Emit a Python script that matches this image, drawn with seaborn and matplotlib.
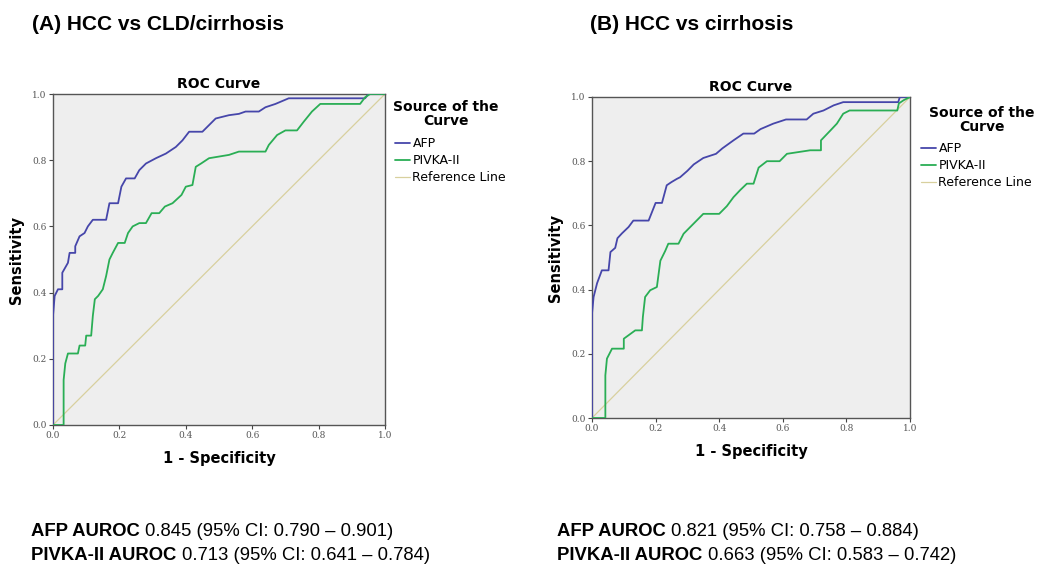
import matplotlib
matplotlib.use("Agg")
import matplotlib.pyplot as plt
import seaborn as sns
import pandas as pd

# ---------------- data ----------------
# Panel A: HCC vs CLD/cirrhosis
a_afp_fpr = [0.0, 0.0, 0.005, 0.015, 0.028, 0.028, 0.045, 0.05, 0.067, 0.067, 0.08, 0.095, 0.105, 0.12,
             0.16, 0.17, 0.196, 0.206, 0.22, 0.246, 0.26, 0.28, 0.31, 0.34, 0.37, 0.39, 0.41, 0.45,
             0.47, 0.49, 0.53, 0.56, 0.58, 0.62, 0.64, 0.67, 0.71, 0.94, 0.95, 1.0]
a_afp_tpr = [0.0, 0.33, 0.39, 0.41, 0.41, 0.46, 0.49, 0.52, 0.52, 0.54, 0.57, 0.58, 0.60, 0.62,
             0.62, 0.67, 0.67, 0.72, 0.745, 0.745, 0.77, 0.79, 0.806, 0.82, 0.84, 0.86, 0.886, 0.886,
             0.906, 0.926, 0.936, 0.94, 0.947, 0.947, 0.96, 0.97, 0.987, 0.987, 1.0, 1.0]
a_pivka_fpr = [0.0, 0.032, 0.032, 0.037, 0.045, 0.075, 0.08, 0.097, 0.10, 0.115, 0.12, 0.126, 0.136,
               0.15, 0.16, 0.17, 0.18, 0.196, 0.216, 0.226, 0.24, 0.26, 0.28, 0.297, 0.32, 0.337,
               0.36, 0.387, 0.40, 0.42, 0.43, 0.446, 0.47, 0.53, 0.56, 0.64, 0.65, 0.675, 0.70,
               0.735, 0.755, 0.78, 0.805, 0.925, 0.94, 0.955, 1.0]
a_pivka_tpr = [0.0, 0.0, 0.136, 0.186, 0.216, 0.216, 0.24, 0.24, 0.27, 0.27, 0.33, 0.38, 0.39,
               0.41, 0.45, 0.50, 0.52, 0.55, 0.55, 0.58, 0.60, 0.61, 0.61, 0.64, 0.64, 0.66,
               0.67, 0.695, 0.72, 0.725, 0.78, 0.79, 0.806, 0.816, 0.826, 0.826, 0.846, 0.876, 0.89,
               0.89, 0.916, 0.947, 0.97, 0.97, 0.99, 1.0, 1.0]

# Panel B: HCC vs cirrhosis
b_afp_fpr = [0.0, 0.0, 0.005, 0.016, 0.031, 0.052, 0.058, 0.073, 0.08, 0.094, 0.115, 0.13, 0.178,
             0.20, 0.22, 0.235, 0.25, 0.267, 0.277, 0.30, 0.32, 0.35, 0.39, 0.41, 0.445, 0.476,
             0.51, 0.53, 0.57, 0.61, 0.675, 0.696, 0.728, 0.76, 0.79, 0.963, 0.968, 1.0]
b_afp_tpr = [0.0, 0.325, 0.377, 0.42, 0.46, 0.46, 0.517, 0.53, 0.56, 0.575, 0.595, 0.615, 0.615,
             0.67, 0.67, 0.725, 0.735, 0.745, 0.75, 0.77, 0.79, 0.81, 0.823, 0.84, 0.865, 0.886,
             0.886, 0.90, 0.917, 0.93, 0.93, 0.948, 0.958, 0.974, 0.984, 0.984, 1.0, 1.0]
b_pivka_fpr = [0.0, 0.042, 0.042, 0.047, 0.063, 0.10, 0.10, 0.136, 0.157, 0.16, 0.167, 0.183, 0.204,
               0.215, 0.23, 0.24, 0.272, 0.288, 0.309, 0.33, 0.35, 0.40, 0.424, 0.445, 0.466,
               0.487, 0.508, 0.524, 0.55, 0.59, 0.613, 0.686, 0.72, 0.72, 0.75, 0.77, 0.79, 0.81,
               0.96, 0.965, 0.98, 1.0]
b_pivka_tpr = [0.0, 0.0, 0.133, 0.185, 0.216, 0.216, 0.247, 0.273, 0.273, 0.315, 0.377, 0.398, 0.408,
               0.49, 0.52, 0.543, 0.543, 0.574, 0.595, 0.616, 0.636, 0.636, 0.66, 0.688, 0.71,
               0.73, 0.73, 0.78, 0.80, 0.80, 0.823, 0.834, 0.834, 0.865, 0.896, 0.917, 0.948, 0.958,
               0.958, 0.98, 0.99, 1.0]

ref_x = [0.0, 1.0]
ref_y = [0.0, 1.0]

ticks = [0.0, 0.2, 0.4, 0.6, 0.8, 1.0]
tick_labels = ["0.0", "0.2", "0.4", "0.6", "0.8", "1.0"]
series_names = ["AFP", "PIVKA-II", "Reference Line"]

panel_titles = ["(A) HCC vs CLD/cirrhosis", "(B) HCC vs cirrhosis"]
auroc_afp = ["0.845 (95% CI: 0.790 \u2013 0.901)", "0.821 (95% CI: 0.758 \u2013 0.884)"]
auroc_pivka = ["0.713 (95% CI: 0.641 \u2013 0.784)", "0.663 (95% CI: 0.583 \u2013 0.742)"]

# ---------------- styling ----------------
sns.set_style("white")
plt.rcParams['font.family'] = ['DejaVu Sans']
plt.rcParams['text.color'] = 'black'
plt.rcParams['axes.labelcolor'] = 'black'

colors = {"AFP": "#4646aa", "PIVKA-II": "#2aae55", "Reference Line": "#d8d09e"}

W, H = 1047, 567
fig = plt.figure(figsize=(10.47, 5.67), dpi=100)
fig.patch.set_facecolor("white")

axes_rects = [
    [53 / W, 1 - 425 / H, 332 / W, 331 / H],
    [592 / W, 1 - 418 / H, 318 / W, 321 / H],
]
legend_title_pos = [(446, 114), (982, 120)]
legend_anchor = [(395, 137), (921, 142)]
panel_title_x = [32, 590]
text_x = [31, 557]

panels = [
    (a_afp_fpr, a_afp_tpr, a_pivka_fpr, a_pivka_tpr),
    (b_afp_fpr, b_afp_tpr, b_pivka_fpr, b_pivka_tpr),
]

for i, (afx, afy, pvx, pvy) in enumerate(panels):
    ax = fig.add_axes(axes_rects[i])
    ax.set_facecolor("#eeeeee")
    df = pd.concat([
        pd.DataFrame({"fpr": afx, "tpr": afy, "curve": "AFP"}),
        pd.DataFrame({"fpr": pvx, "tpr": pvy, "curve": "PIVKA-II"}),
        pd.DataFrame({"fpr": ref_x, "tpr": ref_y, "curve": "Reference Line"}),
    ], ignore_index=True)
    for name, lw in zip(series_names, [1.3, 1.3, 0.9]):
        sub = df[df["curve"] == name]
        sns.lineplot(data=sub, x="fpr", y="tpr", sort=False, estimator=None, ax=ax,
                     color=colors[name], lw=lw, label=name, zorder=3 if name != "Reference Line" else 2)
    ax.set_xlim(0, 1)
    ax.set_ylim(0, 1)
    ax.set_xticks(ticks)
    ax.set_yticks(ticks)
    ax.set_xticklabels(tick_labels, family="DejaVu Serif", fontsize=6.5, color="#555555")
    ax.set_yticklabels(tick_labels, family="DejaVu Serif", fontsize=6.5, color="#555555")
    ax.tick_params(axis="both", direction="out", length=3, width=0.8, color="#444444",
                   pad=1.5, left=True, bottom=True)
    for sp in ax.spines.values():
        sp.set_color("#555555")
        sp.set_linewidth(1.0)
    ax.set_xlabel("1 - Specificity", fontsize=10.5, fontweight="bold", labelpad=8)
    ax.set_ylabel("Sensitivity", fontsize=10.5, fontweight="bold", labelpad=6)
    ax.set_title("ROC Curve", fontsize=10, fontweight="bold", pad=4)

    handles, labels = ax.get_legend_handles_labels()
    ax.legend_.remove()
    tx, ty = legend_title_pos[i]
    fig.text(tx / W, 1 - ty / H, "Source of the\nCurve", fontsize=10, fontweight="bold",
             ha="center", va="center", multialignment="center", linespacing=1.05)
    lx, ly = legend_anchor[i]
    fig.legend(handles, labels, loc="upper left", bbox_to_anchor=(lx / W, 1 - ly / H),
               frameon=False, fontsize=9, handlelength=1.2, handletextpad=0.2,
               labelspacing=0.33, borderaxespad=0, borderpad=0)

    fig.text(panel_title_x[i] / W, 1 - 24 / H, panel_titles[i], fontsize=15, fontweight="bold",
             family=["Liberation Sans", "DejaVu Sans"], va="center", ha="left")

    y1 = 1 - 531 / H
    y2 = 1 - 555 / H
    for yy, lab, val in [(y1, "AFP AUROC ", auroc_afp[i]), (y2, "PIVKA-II AUROC ", auroc_pivka[i])]:
        t = fig.text(text_x[i] / W, yy, lab, fontsize=13.3, fontweight="bold",
                     family=["Liberation Sans", "DejaVu Sans"], va="center", ha="left")
        fig.canvas.draw()
        bb = t.get_window_extent()
        fig.text(bb.x1 / fig.bbox.width, yy, val, fontsize=13.3,
                 family=["Liberation Sans", "DejaVu Sans"], va="center", ha="left")

fig.savefig("out.png", dpi=100, facecolor="white")
